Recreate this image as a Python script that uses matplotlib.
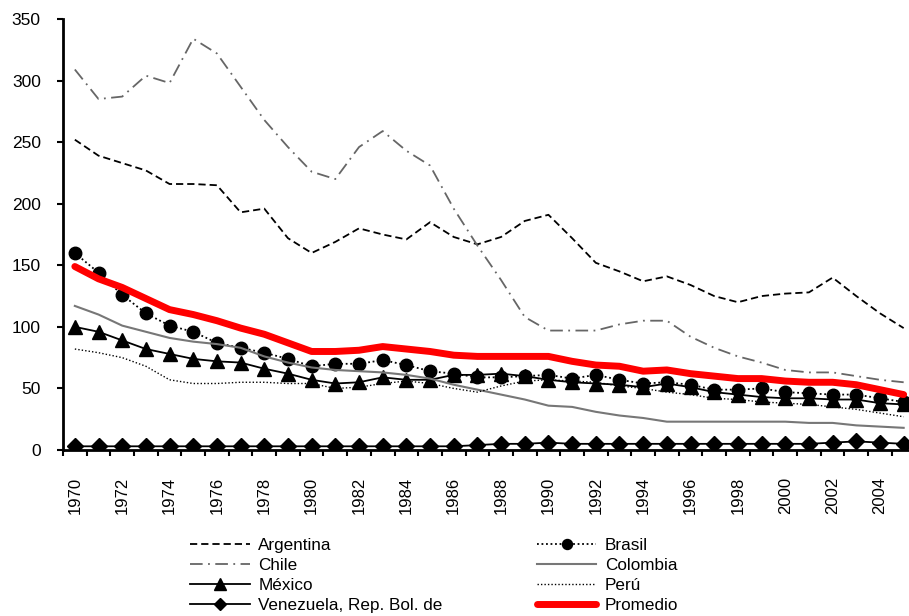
import matplotlib
matplotlib.use('Agg')
import matplotlib.pyplot as plt
import numpy as np

plt.rcParams['font.family'] = ['Liberation Sans', 'DejaVu Sans']

years = list(range(1970, 2006))

argentina = [252, 239, 233, 227, 216, 216, 215, 193, 196, 172, 160, 169, 180, 175, 171, 185, 173, 167, 173, 186, 191, 172, 152, 145, 137, 141, 134, 125, 120, 125, 127, 128, 140, 125, 111, 99]
chile = [309, 285, 287, 304, 298, 334, 322, 295, 268, 246, 226, 220, 246, 259, 243, 231, 196, 166, 138, 108, 97, 97, 97, 102, 105, 105, 92, 83, 76, 71, 65, 63, 63, 60, 57, 55]
brasil = [160, 144, 126, 111, 101, 96, 87, 83, 79, 74, 68, 70, 70, 73, 69, 64, 62, 59, 59, 60, 61, 58, 61, 57, 54, 55, 53, 49, 49, 50, 47, 46, 45, 45, 42, 39]
colombia = [117, 110, 101, 96, 91, 88, 86, 83, 76, 71, 67, 65, 64, 63, 61, 58, 53, 49, 45, 41, 36, 35, 31, 28, 26, 23, 23, 23, 23, 23, 23, 22, 22, 20, 19, 18]
mexico = [100, 96, 89, 82, 78, 74, 72, 71, 66, 62, 57, 54, 55, 59, 57, 57, 61, 61, 62, 60, 57, 55, 54, 53, 51, 54, 51, 47, 45, 43, 42, 42, 41, 41, 38, 37]
peru = [82, 79, 75, 68, 57, 54, 54, 55, 55, 54, 54, 50, 51, 54, 56, 54, 50, 47, 52, 56, 57, 56, 55, 52, 50, 47, 45, 42, 41, 39, 38, 37, 35, 33, 30, 27]
venezuela = [3, 3, 3, 3, 3, 3, 3, 3, 3, 3, 3, 3, 3, 3, 3, 3, 3, 4, 5, 5, 6, 5, 5, 5, 5, 5, 5, 5, 5, 5, 5, 5, 6, 7, 6, 5]
promedio = [149, 139, 132, 123, 114, 110, 105, 99, 94, 87, 80, 80, 81, 84, 82, 80, 77, 76, 76, 76, 76, 72, 69, 68, 64, 65, 62, 60, 58, 58, 56, 55, 55, 53, 49, 45]

fig = plt.figure(figsize=(9.09, 6.16), dpi=100)
ax = fig.add_axes([63 / 909, 166 / 616, 852.5 / 909, 431 / 616])

l_arg, = ax.plot(years, argentina, color='black', lw=1.3, ls=(0, (4, 2.2)), label='Argentina')
l_chi, = ax.plot(years, chile, color='#666666', lw=1.3, ls=(0, (7, 3, 1, 3)), label='Chile')
l_mex, = ax.plot(years, mexico, color='black', lw=1.3, marker='^', ms=10, label='México')
l_ven, = ax.plot(years, venezuela, color='black', lw=1.3, marker='D', ms=8, label='Venezuela, Rep. Bol. de')
l_bra, = ax.plot(years, brasil, color='black', lw=1.3, ls=(0, (1, 1.5)), marker='o', ms=9, label='Brasil')
l_col, = ax.plot(years, colombia, color='#777777', lw=1.5, label='Colombia')
l_per, = ax.plot(years, peru, color='black', lw=1.0, ls=(0, (1, 1.5)), label='Perú')
l_pro, = ax.plot(years, promedio, color='#ff0000', lw=5, solid_capstyle='round', label='Promedio')

ax.set_xlim(1969.5, 2005.5)
ax.set_ylim(0, 350)
ax.set_yticks(range(0, 351, 50))
ax.set_xticks(years[::2])
ax.set_xticks(np.arange(1969.5, 2006, 1), minor=True)
ax.tick_params(axis='x', which='major', length=0, pad=19, labelsize=12, labelrotation=90)
ax.tick_params(axis='x', which='minor', length=4, width=1.5, direction='out')
ax.tick_params(axis='y', length=4, width=1.5, direction='out', pad=12, labelsize=12.5)

for s in ['top', 'right']:
    ax.spines[s].set_visible(False)
for s in ['left', 'bottom']:
    ax.spines[s].set_linewidth(2)

handles = [l_arg, l_chi, l_mex, l_ven, l_bra, l_col, l_per, l_pro]
leg = fig.legend(handles=handles, labels=[h.get_label() for h in handles],
                 loc='upper left', bbox_to_anchor=(190 / 909, 1 - 538 / 616),
                 ncol=2, frameon=False, fontsize=12.3, handlelength=3.5,
                 handletextpad=0.5, labelspacing=0.3, columnspacing=5.5,
                 borderpad=0, borderaxespad=0, markerscale=0.8)

plt.savefig('out.png', dpi=100)
